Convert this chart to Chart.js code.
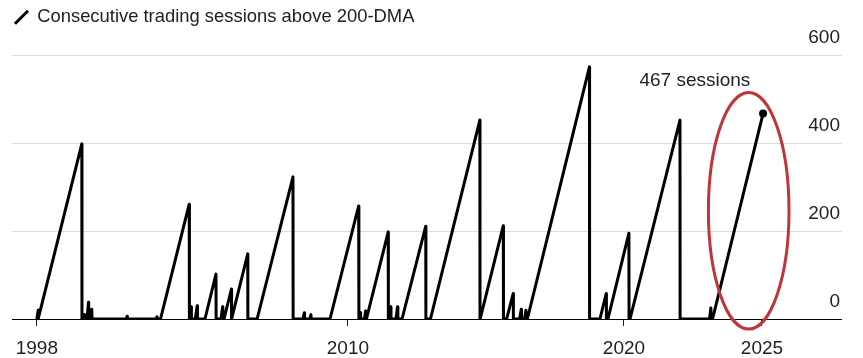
<!DOCTYPE html>
<html><head><meta charset="utf-8">
<script src="https://cdn.jsdelivr.net/npm/chart.js@4.4.1/dist/chart.umd.min.js"></script>
<style>html,body{margin:0;padding:0;background:#fff}#c{display:block}</style>
</head><body>
<canvas id="c" width="863" height="358"></canvas>
<script>
const seriesLabel = 'Consecutive trading sessions above 200-DMA';
const years = [
  1998.73, 1998.78, 1998.79, 2000.36, 2000.365,
  2000.41, 2000.45, 2000.46, 2000.55, 2000.60, 2000.61, 2000.66, 2000.72, 2000.73,
  2001.97, 2002.00, 2002.01, 2003.05, 2003.08, 2003.09,
  2003.21, 2004.25, 2004.255,
  2004.26, 2004.32, 2004.33, 2004.47, 2004.54, 2004.55,
  2004.82, 2005.22, 2005.225,
  2005.40, 2005.46, 2005.47, 2005.51, 2005.78, 2005.785, 2006.37, 2006.375,
  2006.71, 2008.01, 2008.015,
  2008.37, 2008.42, 2008.43, 2008.62, 2008.66, 2008.67,
  2009.35, 2010.39, 2010.395,
  2010.40, 2010.45, 2010.46, 2010.60, 2010.64, 2010.65,
  2010.67, 2011.46, 2011.465,
  2011.49, 2011.55, 2011.56, 2011.74, 2011.80, 2011.81,
  2011.96, 2012.82, 2012.825,
  2012.99, 2014.78, 2014.785,
  2014.79, 2015.63, 2015.635,
  2015.75, 2015.99, 2015.995,
  2016.22, 2016.28, 2016.29, 2016.40, 2016.45, 2016.46,
  2016.50, 2018.75, 2018.755,
  2019.13, 2019.36, 2019.365,
  2019.42, 2020.18, 2020.185,
  2020.22, 2022.03, 2022.035,
  2023.10, 2023.15, 2023.16,
  2023.21, 2025.04
];
const sessions = [
  0, 20, 3, 398, 0,
  0, 10, 0, 0, 38, 0, 0, 22, 0,
  0, 6, 0, 0, 5, 0,
  0, 261, 0,
  0, 28, 0, 0, 30, 0,
  0, 102, 0,
  0, 28, 0, 0, 68, 0, 148, 0,
  0, 323, 0,
  0, 14, 0, 0, 10, 0,
  0, 257, 0,
  0, 15, 0, 0, 18, 0,
  0, 198, 0,
  0, 28, 0, 0, 28, 0,
  0, 211, 0,
  0, 452, 0,
  0, 212, 0,
  0, 58, 0,
  0, 22, 0, 0, 20, 0,
  0, 573, 0,
  0, 58, 0,
  0, 195, 0,
  0, 452, 0,
  0, 25, 0,
  0, 467
];
const tickYears = [1998.73, 2010, 2020, 2025];
const tickLabels = ['1998', '2010', '2020', '2025'];
const yTicks = [0, 200, 400, 600];
const noteText = '467 sessions';
const noteAt = [2022.57, 542];
const ellipseCenter = [2024.52, 246];
const ellipseRadius = [1.46, 269];

Chart.defaults.font.family = '"Liberation Sans", Arial, Helvetica, sans-serif';
Chart.defaults.color = '#222';

const spacerPlugin = {
  id: 'legendSpacer',
  beforeInit(chart) {
    const orig = chart.legend.fit;
    chart.legend.fit = function () { orig.bind(chart.legend)(); this.height = 50; };
  }
};

const annotPlugin = {
  id: 'annot',
  afterDatasetsDraw(chart) {
    const {ctx, scales: {x, y}} = chart;
    ctx.save();
    ctx.font = '19px "Liberation Sans", Arial, sans-serif';
    ctx.fillStyle = '#222';
    ctx.textAlign = 'center';
    ctx.textBaseline = 'middle';
    ctx.fillText(noteText, x.getPixelForValue(noteAt[0]), y.getPixelForValue(noteAt[1]));
    const cx = x.getPixelForValue(ellipseCenter[0]);
    const cy = y.getPixelForValue(ellipseCenter[1]);
    const rx = Math.abs(x.getPixelForValue(ellipseCenter[0] + ellipseRadius[0]) - cx);
    const ry = Math.abs(y.getPixelForValue(ellipseCenter[1] + ellipseRadius[1]) - cy);
    ctx.beginPath();
    ctx.ellipse(cx, cy, rx, ry, 0, 0, Math.PI * 2);
    ctx.strokeStyle = '#c0343a';
    ctx.lineWidth = 3;
    ctx.stroke();
    ctx.restore();
  }
};

const lastIdx = years.length - 1;
new Chart(document.getElementById('c'), {
  type: 'line',
  data: {
    datasets: [{
      label: seriesLabel,
      data: years.map((yr, i) => ({x: yr, y: sessions[i]})),
      borderColor: '#000',
      backgroundColor: '#000',
      borderWidth: 3,
      borderJoinStyle: 'round',
      tension: 0,
      pointRadius: ctx => ctx.dataIndex === lastIdx ? 4 : 0,
      pointBackgroundColor: '#000',
      pointBorderWidth: 0,
      fill: false
    }]
  },
  options: {
    responsive: false,
    animation: false,
    devicePixelRatio: 1,
    layout: {padding: {left: 12, right: 21, top: 5, bottom: 0}},
    plugins: {
      tooltip: {enabled: false},
      legend: {
        display: true,
        align: 'start',
        labels: {
          usePointStyle: true,
          pointStyleWidth: 13,
          boxHeight: 12,
          boxWidth: 12,
          padding: 3,
          color: '#222',
          font: {size: 18.4},
          generateLabels: () => [{
            text: seriesLabel, fillStyle: '#000', strokeStyle: '#000', lineWidth: 3,
            pointStyle: 'line', rotation: -50, datasetIndex: 0, hidden: false, fontColor: '#222'
          }]
        }
      }
    },
    scales: {
      x: {
        type: 'linear',
        min: 1997.83,
        max: 2027.90,
        border: {display: false},
        grid: {drawOnChartArea: false, drawTicks: true, tickLength: 7, color: '#222', lineWidth: 1},
        afterBuildTicks: s => { s.ticks = tickYears.map(v => ({value: v})); },
        afterFit: s => { s.height = 39; },
        ticks: {
          autoSkip: false, maxRotation: 0, padding: 11,
          font: {size: 19}, color: '#222',
          callback: (v, i) => tickLabels[i]
        }
      },
      y: {
        position: 'right',
        min: 0,
        max: 600,
        border: {display: false},
        grid: {color: c => c.tick && c.tick.value === 0 ? '#000' : '#dcdcdc', lineWidth: 1, drawTicks: false},
        afterBuildTicks: s => { s.ticks = yTicks.map(v => ({value: v})); },
        afterFit: s => { s.width = 0; },
        ticks: {
          mirror: true, padding: -2, labelOffset: -17,
          font: {size: 19}, color: '#222'
        }
      }
    }
  },
  plugins: [spacerPlugin, annotPlugin]
});
</script>
</body></html>
